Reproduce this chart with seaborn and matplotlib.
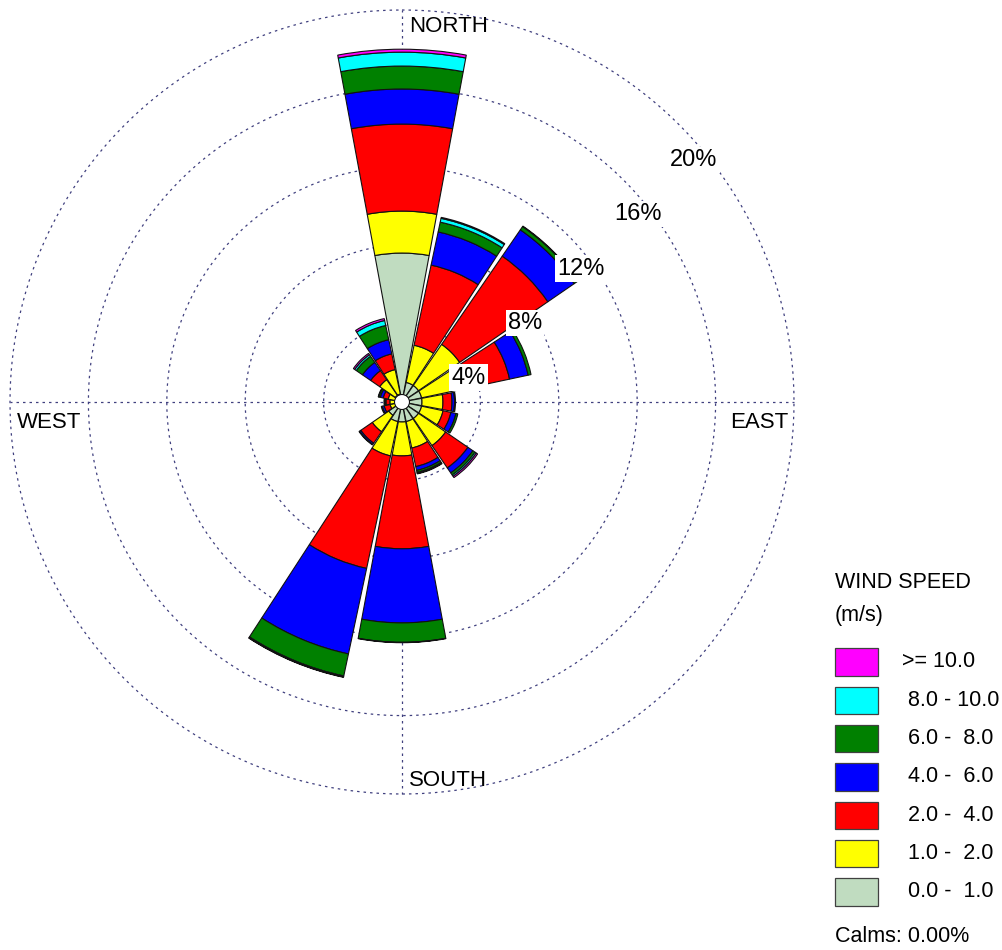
import numpy as np
import pandas as pd
import seaborn as sns
import matplotlib
matplotlib.use("Agg")
import matplotlib.pyplot as plt
from matplotlib.patches import Rectangle, Circle

# Wind direction sectors (clockwise from north)
directions = ["N", "NNE", "NE", "ENE", "E", "ESE", "SE", "SSE",
              "S", "SSW", "SW", "WSW", "W", "WNW", "NW", "NNW"]

# Frequency (%) of each wind-speed class per direction sector
spd_0_1 = [7.60, 1.02, 1.02, 1.02, 1.02, 1.02, 1.02, 1.02, 1.02, 1.02, 0.82, 0.26, 0.26, 0.31, 0.41, 0.41]
spd_1_2 = [2.14, 1.94, 2.55, 2.14, 1.07, 1.12, 1.68, 1.38, 1.73, 1.79, 1.02, 0.36, 0.36, 0.41, 0.97, 1.28]
spd_2_4 = [4.44, 4.18, 5.46, 2.45, 0.46, 0.41, 1.38, 0.97, 4.74, 5.87, 0.71, 0.31, 0.20, 0.26, 0.56, 0.82]
spd_4_6 = [1.79, 1.73, 1.63, 0.97, 0.13, 0.26, 0.31, 0.20, 3.78, 4.46, 0.08, 0.10, 0.05, 0.15, 0.51, 0.74]
spd_6_8 = [1.17, 0.51, 0.20, 0.15, 0.05, 0.10, 0.13, 0.10, 0.99, 1.15, 0.03, 0.05, 0.05, 0.08, 0.38, 0.74]
spd_8_10 = [0.71, 0.20, 0.03, 0.00, 0.00, 0.00, 0.08, 0.05, 0.02, 0.05, 0.00, 0.00, 0.00, 0.03, 0.10, 0.26]
spd_10_up = [0.15, 0.05, 0.00, 0.00, 0.00, 0.00, 0.08, 0.03, 0.00, 0.02, 0.00, 0.00, 0.00, 0.00, 0.08, 0.10]

class_labels = ["0.0 -  1.0", "1.0 -  2.0", "2.0 -  4.0", "4.0 -  6.0",
                "6.0 -  8.0", "8.0 - 10.0", ">= 10.0"]
class_colors = ["#C0DCC0", "#FFFF00", "#FF0000", "#0000FF",
                "#008000", "#00FFFF", "#FF00FF"]

ring_values = [4, 8, 12, 16, 20]
calms_pct = 0.00

freq = pd.DataFrame(
    {lab: vals for lab, vals in zip(
        class_labels,
        [spd_0_1, spd_1_2, spd_2_4, spd_4_6, spd_6_8, spd_8_10, spd_10_up])},
    index=directions,
)

sns.set_theme(style="white")
plt.rcParams["font.family"] = ["Liberation Sans", "DejaVu Sans"]
plt.rcParams["text.color"] = "black"
palette = sns.color_palette(class_colors)

W, H = 1003, 950
fig = plt.figure(figsize=(W / 100, H / 100), dpi=100)

# polar axes geometry (pixels)
R_MAX = 20.2
PX_PER_PCT = 19.6
rad_px = R_MAX * PX_PER_PCT
cx, cy = 402, 402
ax = fig.add_axes([(cx - rad_px) / W, (H - cy - rad_px) / H,
                   2 * rad_px / W, 2 * rad_px / H], projection="polar")
ax.set_theta_zero_location("N")
ax.set_theta_direction(-1)
ax.set_ylim(0, R_MAX)
ax.grid(False)
ax.set_xticks([])
ax.set_yticks([])
ax.spines["polar"].set_visible(False)

grid_color = "#40407f"
dotted = (0, (2, 3.2))
tt = np.linspace(0, 2 * np.pi, 721)
for v in ring_values:
    ax.plot(tt, np.full_like(tt, v), color=grid_color, lw=0.9, ls=dotted, zorder=1)
for a in [0, 90, 180, 270]:
    ax.plot([np.deg2rad(a)] * 2, [0, ring_values[-1]], color=grid_color,
            lw=0.9, ls=dotted, zorder=1)

# stacked wind-rose sectors
theta = np.deg2rad(np.arange(len(directions)) * 22.5)
width = np.deg2rad(21.0)
bottom = np.zeros(len(directions))
for lab, col in zip(class_labels, palette):
    h = freq[lab].to_numpy()
    m = h > 0
    ax.bar(theta[m], h[m], width=width, bottom=bottom[m], color=col,
           edgecolor="#111111", linewidth=0.8, zorder=3)
    bottom += h

# calm circle in the centre
ax.add_patch(Circle((0.5, 0.5), 7.5 / (2 * rad_px), transform=ax.transAxes,
                    facecolor="white", edgecolor="#111111", lw=0.8, zorder=6))

# ring labels
for v in ring_values:
    ax.annotate(f"{v}%", xy=(np.deg2rad(46), v), xytext=(10, -30),
                textcoords="offset pixels", ha="center", va="center",
                fontsize=17, color="black", zorder=8,
                bbox=dict(facecolor="white", edgecolor="none", pad=1.5))

# compass labels
r_out = ring_values[-1]
ax.annotate("NORTH", xy=(0, r_out), xytext=(7, -17), textcoords="offset pixels",
            ha="left", va="center", fontsize=16, color="black", zorder=8)
ax.annotate("SOUTH", xy=(np.pi, r_out), xytext=(7, 14), textcoords="offset pixels",
            ha="left", va="center", fontsize=16, color="black", zorder=8)
ax.annotate("WEST", xy=(1.5 * np.pi, r_out), xytext=(7, -20), textcoords="offset pixels",
            ha="left", va="center", fontsize=16, color="black", zorder=8)
ax.annotate("EAST", xy=(0.5 * np.pi, r_out), xytext=(-6, -20), textcoords="offset pixels",
            ha="right", va="center", fontsize=16, color="black", zorder=8)

# legend panel in pixel coordinates
lax = fig.add_axes([0, 0, 1, 1])
lax.set_xlim(0, W)
lax.set_ylim(H, 0)
lax.axis("off")
lax.text(835, 583, "WIND SPEED", ha="left", va="center", fontsize=15.5, color="black")
lax.text(835, 615, "(m/s)", ha="left", va="center", fontsize=15.5, color="black")
row_top, row_step, box_w, box_h = 648.3, 38.33, 43, 27.3
for i, (lab, col) in enumerate(zip(class_labels[::-1], list(palette)[::-1])):
    top = row_top + i * row_step
    lax.add_patch(Rectangle((835, top), box_w, box_h, facecolor=col,
                            edgecolor="#404040", lw=0.9))
    tx = 902 if lab.startswith(">=") else 908
    lax.text(tx, top + box_h / 2, lab, ha="left", va="center", fontsize=15.5,
             color="black")
lax.text(835, 937, f"Calms: {calms_pct:.2f}%", ha="left", va="center",
         fontsize=15.5, color="black")

fig.savefig("out.png", dpi=100, facecolor="white")
